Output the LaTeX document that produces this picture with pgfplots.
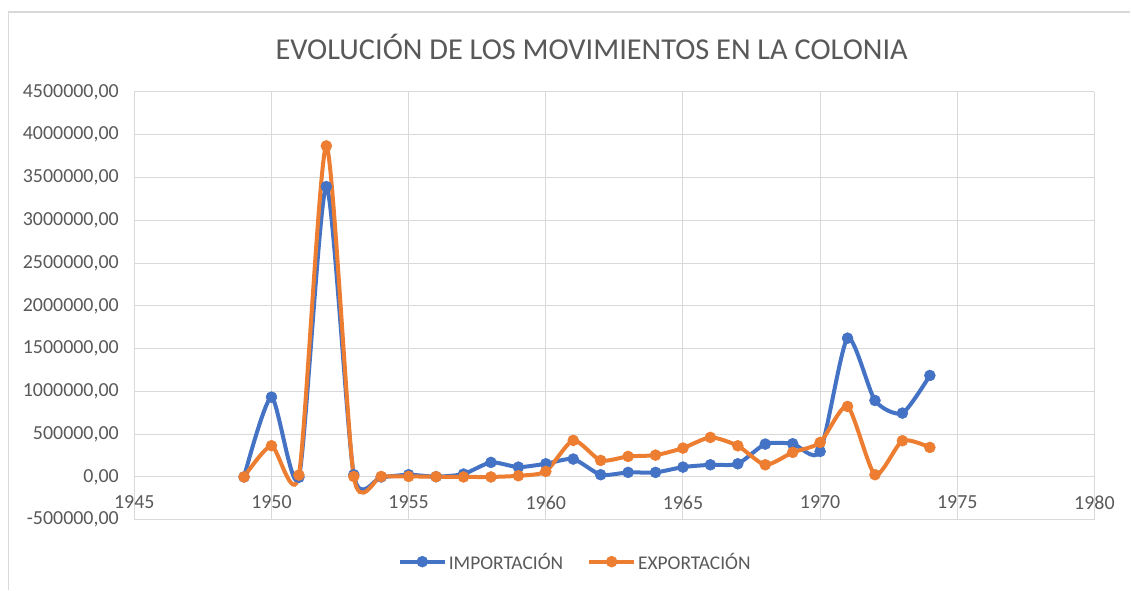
\documentclass[border=0pt]{standalone}
\usepackage{pgfplots}
\pgfplotsset{compat=1.18}
\usepackage{fontspec}
\setmainfont{Carlito}
\definecolor{imp}{RGB}{68,114,196}
\definecolor{expc}{RGB}{237,125,49}
\definecolor{gridc}{RGB}{217,217,217}
\definecolor{txt}{RGB}{89,89,89}

\pgfplotstableread{
year imp
1949 0
1950 933000
1951 -5000
1952 3394000
1953 26000
1954 0
1955 26000
1956 3000
1957 34000
1958 170000
1959 115000
1960 154000
1961 209000
1962 26000
1963 53000
1964 53000
1965 115000
1966 142000
1967 154000
1968 384000
1969 388000
1970 298000
1971 1622000
1972 894000
1973 746000
1974 1186000
}\imptable

\pgfplotstableread{
year exp
1949 0
1950 365000
1951 22000
1952 3869000
1953 5000
1954 5000
1955 6000
1956 3000
1957 0
1958 0
1959 14000
1960 65000
1961 427000
1962 193000
1963 240000
1964 255000
1965 337000
1966 462000
1967 364000
1968 142000
1969 287000
1970 403000
1971 824000
1972 26000
1973 423000
1974 345000
}\exptable

\begin{document}
\begin{tikzpicture}[x=1bp,y=1bp]
\path[fill=white] (0,0) rectangle (1131,590);
\draw[gridc, line width=1.2bp] (8.5,0) -- (8.5,578) -- (1131,578);
\begin{axis}[
  at={(134.4bp,70bp)}, anchor=south west, scale only axis,
  width=960.6bp, height=428bp,
  xmin=1945, xmax=1980, ymin=-500000, ymax=4500000,
  xtick={1945,1950,...,1980},
  ytick={-500000,0,500000,1000000,1500000,2000000,2500000,3000000,3500000,4000000,4500000},
  grid=major, grid style={gridc, line width=1bp},
  axis x line=middle, axis y line=left,
  axis line style={gridc, line width=1bp, -},
  tick style={draw=none},
  hide obscured x ticks=false, hide obscured y ticks=false,
  scaled y ticks=false, scaled x ticks=false,
  /pgf/number format/assume math mode=true,
  ticklabel style={font=\fontsize{20}{22}\selectfont, text=txt},
  x tick label style={yshift=-13bp, /pgf/number format/.cd, fixed, precision=0, 1000 sep={}},
  y tick label style={xshift=-10bp, /pgf/number format/.cd, fixed, fixed zerofill, precision=2, use comma, 1000 sep={}},
  title={EVOLUCIÓN DE LOS MOVIMIENTOS EN LA COLONIA},
  title style={at={(axis description cs:0.4764,1.0607)}, anchor=base, font=\fontsize{30.5}{32}\selectfont, text=txt},
  legend columns=2,
  legend style={at={(axis description cs:0.4592,-0.0981)}, anchor=center, draw=none, fill=none,
    font=\fontsize{19.5}{22}\selectfont, text=txt,
    /tikz/every even column/.append style={column sep=22bp}},
  legend image code/.code={\draw[mark repeat=2, mark phase=2] plot coordinates {(0bp,0bp) (22.5bp,0bp) (45bp,0bp)};},
]
\addplot[imp, line width=4bp, smooth, tension=0.4, mark=*, mark size=5.5bp, mark options={solid, fill=imp, draw=imp, line width=0.5bp}] table[x=year, y=imp] {\imptable};
\addlegendentry{IMPORTACIÓN}
\addplot[expc, line width=4bp, smooth, tension=0.4, mark=*, mark size=5.5bp, mark options={solid, fill=expc, draw=expc, line width=0.5bp}] table[x=year, y=exp] {\exptable};
\addlegendentry{EXPORTACIÓN}
\end{axis}
\end{tikzpicture}
\end{document}
